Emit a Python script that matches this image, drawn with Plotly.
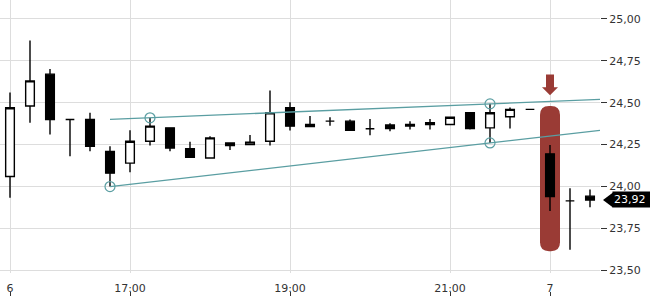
import plotly.graph_objects as go

# 15-minute candles (session index positions)
times = ["15:30", "15:45", "16:00", "16:15", "16:30", "16:45", "17:00", "17:15",
         "17:30", "17:45", "18:00", "18:15", "18:30", "18:45", "19:00", "19:15",
         "19:30", "19:45", "20:00", "20:15", "20:30", "20:45", "21:00", "21:15",
         "21:30", "21:45", "22:00", "7 09:00", "7 09:15", "7 09:30"]
open_ = [24.06, 24.48, 24.67, 24.40, 24.40, 24.21, 24.14, 24.27, 24.35, 24.225,
         24.17, 24.26, 24.25, 24.27, 24.47, 24.357, 24.39, 24.39, 24.345, 24.367,
         24.36, 24.38, 24.37, 24.44, 24.35, 24.416, 24.46, 24.195, 23.915, 23.943]
high = [24.56, 24.87, 24.70, 24.40, 24.44, 24.24, 24.336, 24.41, 24.354, 24.267,
        24.30, 24.26, 24.307, 24.572, 24.503, 24.42, 24.413, 24.40, 24.403, 24.377,
        24.389, 24.403, 24.416, 24.44, 24.493, 24.472, 24.46, 24.248, 23.99, 23.982]
low = [23.933, 24.38, 24.31, 24.18, 24.21, 24.00, 24.086, 24.245, 24.21, 24.175,
       24.17, 24.218, 24.25, 24.245, 24.334, 24.357, 24.363, 24.334, 24.306, 24.33,
       24.34, 24.34, 24.37, 24.34, 24.26, 24.346, 24.46, 23.854, 23.623, 23.876]
close = [24.47, 24.63, 24.40, 24.40, 24.24, 24.08, 24.27, 24.36, 24.23, 24.175,
         24.29, 24.245, 24.265, 24.44, 24.36, 24.37, 24.39, 24.335, 24.345, 24.346,
         24.37, 24.37, 24.413, 24.346, 24.44, 24.46, 24.46, 23.94, 23.915, 23.92]

x_tick_pos = [0, 6, 14, 22, 27]
x_tick_text = ["6", "17:00", "19:00", "21:00", "7"]
y_ticks = [23.5, 23.75, 24.0, 24.25, 24.5, 24.75, 25.0]

# trend channel anchors (candle index, price)
upper_anchor = [(7, high[7]), (24, high[24])]
lower_anchor = [(5, low[5]), (24, low[24])]
channel_start = 5
signal_idx = 27
highlight_top = 24.48
highlight_bottom = 23.615

n = len(close)
xs = list(range(n))
x_range = [-0.5, n - 0.5]
y_range = [23.483, 25.112]

TEAL = "#5a9ea2"
RED = "#9a3b35"
FONT = "DejaVu Sans"

W, H = 650, 300
plot_w = 600
plot_h = 277
px_x = (x_range[1] - x_range[0]) / plot_w
px_y = (y_range[1] - y_range[0]) / plot_h

fig = go.Figure()

fig.add_trace(go.Candlestick(
    x=xs, open=open_, high=high, low=low, close=close,
    increasing=dict(line=dict(color="black", width=1.4), fillcolor="white"),
    decreasing=dict(line=dict(color="black", width=1.4), fillcolor="black"),
    whiskerwidth=0, showlegend=False, hoverinfo="skip",
))


def line_through(anchor, x0, x1):
    (xa, ya), (xb, yb) = anchor
    s = (yb - ya) / (xb - xa)
    return [x0, x1], [ya + s * (x0 - xa), ya + s * (x1 - xa)]


for anc in (upper_anchor, lower_anchor):
    lx, ly = line_through(anc, channel_start, x_range[1])
    fig.add_trace(go.Scatter(x=lx, y=ly, mode="lines",
                             line=dict(color=TEAL, width=1.3),
                             showlegend=False, hoverinfo="skip"))

cx = [a[0] for a in upper_anchor + lower_anchor]
cy = [a[1] for a in upper_anchor + lower_anchor]
fig.add_trace(go.Scatter(x=cx, y=cy, mode="markers",
                         marker=dict(symbol="circle-open", size=10,
                                     color=TEAL, line=dict(width=1.2)),
                         showlegend=False, hoverinfo="skip"))

# helper trace for the lower tick-only axis
fig.add_trace(go.Scatter(x=[None], y=[None], xaxis="x2", showlegend=False,
                         hoverinfo="skip"))

# highlight rounded rect around signal candle
x0, x1 = signal_idx - 10 * px_x, signal_idx + 10 * px_x
y0, y1 = highlight_bottom, highlight_top
rx, ry = 9 * px_x, 9 * px_y
path = (f"M{x0+rx},{y1} L{x1-rx},{y1} Q{x1},{y1} {x1},{y1-ry} "
        f"L{x1},{y0+ry} Q{x1},{y0} {x1-rx},{y0} L{x0+rx},{y0} "
        f"Q{x0},{y0} {x0},{y0+ry} L{x0},{y1-ry} Q{x0},{y1} {x0+rx},{y1} Z")
fig.add_shape(type="path", path=path, xref="x", yref="y",
              fillcolor=RED, line=dict(width=0), layer="between")

# down arrow above the highlight
tip = highlight_top + 11 * px_y
hb = tip + 8 * px_y
top = tip + 21 * px_y
sw, hw = 4 * px_x, 8 * px_x
c = signal_idx
arrow = (f"M{c-sw},{top} L{c+sw},{top} L{c+sw},{hb} L{c+hw},{hb} "
         f"L{c},{tip} L{c-hw},{hb} L{c-sw},{hb} Z")
fig.add_shape(type="path", path=arrow, xref="x", yref="y",
              fillcolor=RED, line=dict(width=0), layer="above")

# last price tag
last = close[-1]
half = 7.5 * px_y
tri = (f"M{1 + 3/plot_w},{last} L{1 + 13/plot_w},{last + half} "
       f"L{1 + 13/plot_w},{last - half} Z")
fig.add_shape(type="path", path=tri, xref="paper", yref="y",
              fillcolor="black", line=dict(width=0))
fig.add_annotation(x=1 + 12/plot_w, xref="paper", y=last, yref="y",
                   xanchor="left", yanchor="middle", showarrow=False,
                   text=f"{last:.2f}".replace(".", ","),
                   font=dict(family=FONT, size=11, color="white"),
                   bgcolor="black", borderpad=1, width=36, align="left")

fig.update_layout(
    width=W, height=H,
    margin=dict(l=0, r=W - plot_w, t=0, b=0),
    paper_bgcolor="white", plot_bgcolor="white",
    separators=", ",
    boxgap=0.38,
    font=dict(family=FONT, size=11, color="#333333"),
    xaxis=dict(range=x_range, tickmode="array", tickvals=x_tick_pos,
               ticktext=x_tick_text, showgrid=True, gridcolor="#dddddd",
               gridwidth=1, zeroline=False, showline=False, ticks="",
               ticklabelstandoff=7,
               rangeslider=dict(visible=False), fixedrange=True,
               tickfont=dict(family=FONT, size=11, color="#333333")),
    xaxis2=dict(range=x_range, overlaying="x", anchor="free", position=0,
                tickmode="array", tickvals=x_tick_pos, ticks="inside",
                ticklen=4, tickcolor="#333333", showticklabels=False,
                showgrid=False, zeroline=False, showline=False),
    yaxis=dict(range=y_range, domain=[(H - plot_h) / H, 1], side="right",
               tickmode="array", tickvals=y_ticks, tickformat=".2f",
               showgrid=True, gridcolor="#dddddd", gridwidth=1,
               zeroline=False, showline=False, ticks="outside", ticklen=6,
               tickcolor="#333333",
               tickfont=dict(family=FONT, size=11, color="#333333")),
)

fig.write_html("out.html")
